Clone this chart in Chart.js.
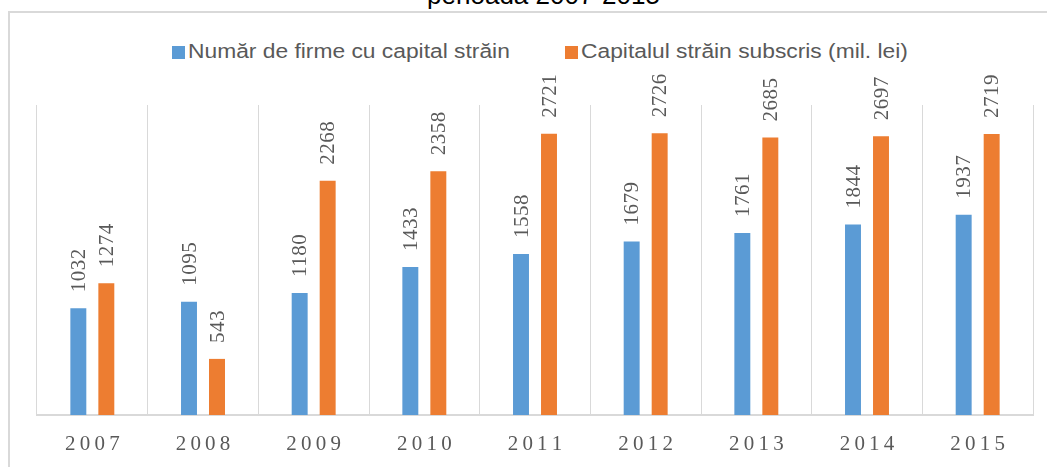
<!DOCTYPE html>
<html>
<head>
<meta charset="utf-8">
<script src="https://cdn.jsdelivr.net/npm/chart.js@4.4.1/dist/chart.umd.min.js"></script>
<style>
  html, body { margin: 0; padding: 0; background: #fff; overflow: hidden; }
  #wrap  { position: relative; width: 1047px; height: 467px; }
  #frame { position: absolute; left: 8px; top: 11px; width: 1100px; height: 500px;
           border: 2px solid #d9d9d9; box-sizing: border-box; }
  #title { position: absolute; left: 20px; width: 1047px; top: -20px; text-align: center;
           font: 26px "Liberation Sans", Arial, sans-serif; color: #000; line-height: 30px; }
  #legend { position: absolute; top: 38px; left: 0; width: 1047px; height: 26px;
            font: 20px "Liberation Sans", Arial, sans-serif; color: #595959; }
  .item { position: absolute; top: 0; line-height: 26px; white-space: nowrap; }
  .sw { display: inline-block; width: 13px; height: 13px; margin-right: 3px; vertical-align: -1px; }
  .txt { display: inline-block; transform: scaleX(1.14); transform-origin: left center; }
  canvas { position: absolute; left: 0; top: 0; }
</style>
</head>
<body>
<div id="wrap">
  <div id="frame"></div>
  <div id="title">perioada 2007-2015</div>
  <div id="legend"></div>
  <canvas id="chart" width="1047" height="467"></canvas>
</div>
<script>
'use strict';

/* ── data ─────────────────────────────────────────── */
const years     = ['2007', '2008', '2009', '2010', '2011', '2012', '2013', '2014', '2015'];
const firms     = [1032, 1095, 1180, 1433, 1558, 1679, 1761, 1844, 1937];
const capital   = [1274, 543, 2268, 2358, 2721, 2726, 2685, 2697, 2719];
const seriesNames  = ['Număr de firme cu capital străin', 'Capitalul străin subscris (mil. lei)'];
const seriesColors = ['#5b9bd5', '#ed7d31'];
const legendX      = [172, 565];

/* ── legend (html) ────────────────────────────────── */
const legend = document.getElementById('legend');
seriesNames.forEach((name, i) => {
  const it = document.createElement('div');
  it.className = 'item';
  it.style.left = legendX[i] + 'px';
  it.innerHTML = `<span class="sw" style="background:${seriesColors[i]}"></span><span class="txt">${name}</span>`;
  legend.appendChild(it);
});

/* ── rotated value labels ─────────────────────────── */
const valueLabels = {
  id: 'valueLabels',
  afterDatasetsDraw(chart) {
    const ctx = chart.ctx;
    ctx.save();
    ctx.font = '21px "Liberation Serif", serif';
    ctx.fillStyle = '#595959';
    ctx.textAlign = 'left';
    ctx.textBaseline = 'middle';
    if ('letterSpacing' in ctx) ctx.letterSpacing = '0.5px';
    chart.data.datasets.forEach((ds, di) => {
      chart.getDatasetMeta(di).data.forEach((bar, i) => {
        ctx.save();
        ctx.translate(bar.x + 1, bar.y - 16);
        ctx.rotate(-Math.PI / 2);
        ctx.fillText(String(ds.data[i]), 0, 0);
        ctx.restore();
      });
    });
    ctx.restore();
  }
};

/* ── chart ────────────────────────────────────────── */
new Chart(document.getElementById('chart'), {
  type: 'bar',
  data: {
    labels: years,
    datasets: [
      { label: seriesNames[0], data: firms,   backgroundColor: seriesColors[0] },
      { label: seriesNames[1], data: capital, backgroundColor: seriesColors[1] }
    ]
  },
  options: {
    responsive: false,
    animation: false,
    categoryPercentage: 0.506,
    barPercentage: 0.57,
    layout: { padding: { left: 37, right: 14, top: 105, bottom: 0 } },
    plugins: { legend: { display: false }, tooltip: { enabled: false } },
    scales: {
      x: {
        offset: true,
        grid: { offset: true, color: '#d9d9d9', lineWidth: 1, drawTicks: false },
        border: { color: '#d9d9d9', width: 2 },
        ticks: {
          padding: 17,
          color: '#595959',
          font: { family: '"Liberation Serif", serif', size: 21 },
          callback(v) { return years[v].split('').join('\u2009'); }
        },
        afterFit(scale) { scale.height = 52; }
      },
      y: { display: false, min: 0, max: 3000 }
    }
  },
  plugins: [valueLabels]
});
</script>
</body>
</html>
